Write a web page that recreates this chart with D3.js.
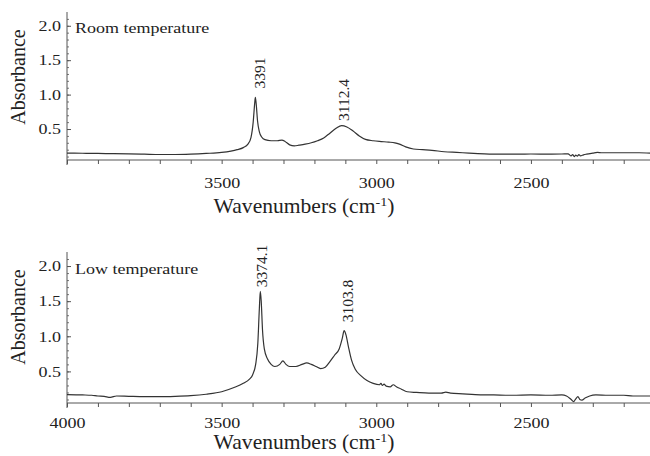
<!DOCTYPE html>
<html>
<head>
<meta charset="utf-8">
<script src="https://cdn.jsdelivr.net/npm/d3@7"></script>
<style>
  body { margin: 0; background: #fff; }
  svg { display: block; font-family: "Liberation Serif", "Times New Roman", serif; }
  svg text { font-family: "Liberation Serif", "Times New Roman", serif; }
</style>
</head>
<body>
<div id="chart"></div>
<script>
// spectra: wavenumber (cm-1) and absorbance
const roomWave = [4000, 3950, 3900, 3850, 3800, 3750, 3700, 3650, 3600, 3550, 3500, 3470, 3450, 3430, 3415, 3405, 3398, 3393, 3391, 3388, 3384, 3378, 3370, 3360, 3340, 3320, 3305, 3295, 3280, 3265, 3250, 3230, 3210, 3190, 3170, 3150, 3130, 3112, 3095, 3075, 3055, 3035, 3010, 2990, 2960, 2940, 2925, 2905, 2880, 2850, 2820, 2780, 2740, 2700, 2650, 2600, 2550, 2500, 2450, 2400, 2380, 2370, 2365, 2360, 2355, 2350, 2345, 2340, 2330, 2320, 2300, 2285, 2270, 2250, 2200, 2150, 2115];
const roomAbs = [0.15, 0.148, 0.145, 0.143, 0.14, 0.135, 0.13, 0.13, 0.135, 0.145, 0.16, 0.18, 0.2, 0.23, 0.28, 0.38, 0.6, 0.88, 0.96, 0.85, 0.62, 0.46, 0.38, 0.345, 0.33, 0.33, 0.34, 0.32, 0.27, 0.255, 0.265, 0.28, 0.3, 0.33, 0.37, 0.44, 0.51, 0.55, 0.53, 0.47, 0.4, 0.35, 0.33, 0.32, 0.31, 0.3, 0.28, 0.24, 0.21, 0.2, 0.19, 0.17, 0.16, 0.15, 0.14, 0.135, 0.135, 0.137, 0.135, 0.137, 0.14, 0.11, 0.13, 0.1, 0.12, 0.105, 0.13, 0.11, 0.125, 0.135, 0.15, 0.16, 0.155, 0.155, 0.155, 0.155, 0.15];

const lowWave = [4000, 3950, 3920, 3900, 3880, 3860, 3840, 3800, 3750, 3700, 3650, 3600, 3550, 3500, 3460, 3430, 3410, 3400, 3390, 3383, 3378, 3375, 3372, 3368, 3362, 3352, 3340, 3328, 3312, 3302, 3292, 3280, 3260, 3240, 3225, 3210, 3195, 3180, 3165, 3150, 3135, 3120, 3110, 3104, 3098, 3090, 3080, 3068, 3050, 3030, 3010, 2990, 2985, 2980, 2975, 2968, 2955, 2945, 2935, 2920, 2900, 2870, 2830, 2790, 2775, 2760, 2720, 2680, 2620, 2560, 2500, 2440, 2400, 2385, 2370, 2362, 2355, 2348, 2342, 2335, 2325, 2310, 2290, 2250, 2200, 2170, 2140, 2115];
const lowAbs = [0.17, 0.165, 0.16, 0.15, 0.145, 0.13, 0.15, 0.145, 0.14, 0.14, 0.145, 0.155, 0.175, 0.21, 0.27, 0.33, 0.39, 0.45, 0.6, 0.9, 1.4, 1.64, 1.5, 1.1, 0.82, 0.68, 0.6, 0.57, 0.6, 0.65, 0.6, 0.57, 0.57, 0.6, 0.62, 0.6, 0.57, 0.54, 0.56, 0.64, 0.73, 0.82, 0.97, 1.08, 1.02, 0.85, 0.66, 0.53, 0.44, 0.37, 0.33, 0.31, 0.33, 0.3, 0.32, 0.29, 0.28, 0.31, 0.28, 0.25, 0.21, 0.2, 0.19, 0.19, 0.205, 0.19, 0.18, 0.17, 0.165, 0.16, 0.165, 0.16, 0.165, 0.15, 0.1, 0.07, 0.11, 0.14, 0.1, 0.09, 0.12, 0.15, 0.165, 0.16, 0.16, 0.15, 0.15, 0.15];

const xTicks = d3.range(4000, 2100, -100);
const yTicks = [0.5, 1.0, 1.5, 2.0];
const yMinor = d3.range(1, 22).map(d => d / 10);

const panels = [
  { wave: roomWave, abs: roomAbs, title: "Room temperature", top: 12, bottom: 160, titleY: 33,
    peaks: [{ w: 3391, text: "3391", cx: 260, cy: 73 }, { w: 3112.4, text: "3112.4", cx: 344, cy: 100 }],
    tickPad: 13, showFirst: false, absY: 77, waveY: 213 },
  { wave: lowWave, abs: lowAbs, title: "Low temperature", top: 252, bottom: 403, titleY: 274,
    peaks: [{ w: 3374.1, text: "3374.1", cx: 262, cy: 266 }, { w: 3103.8, text: "3103.8", cx: 348, cy: 301 }],
    tickPad: 10, showFirst: true, absY: 317, waveY: 449 }
];

const width = 650, height = 456;
const left = 67, right = 650;
const stretch = "scale(1.2,1)";
const serif = "'Liberation Serif', 'Times New Roman', serif";

const svg = d3.select("#chart").append("svg")
  .attr("width", width)
  .attr("height", height);

const x = d3.scaleLinear().domain([4000, 2115]).range([left, right]);

panels.forEach(p => {
  const y = d3.scaleLinear().domain([0.05, 2.2]).range([p.bottom, p.top]);
  const g = svg.append("g");

  // x axis, tick every 100, label every 500
  const xa = g.append("g")
    .attr("transform", `translate(0,${p.bottom})`)
    .call(d3.axisBottom(x).tickValues(xTicks).tickSize(4).tickPadding(p.tickPad)
      .tickFormat(d => (d % 500 === 0 && (p.showFirst || d !== 4000)) ? d : ""))
    .call(s => s.select(".domain").attr("d", `M${left},0H${right}`))
    .attr("font-family", serif)
    .attr("font-size", 15);
  xa.selectAll("line").attr("stroke", "#555");
  xa.select(".domain").attr("stroke", "#555");
  xa.selectAll("text")
    .attr("fill", "#222")
    .attr("transform", stretch);

  // y axis: minor ticks then major
  const ym = g.append("g")
    .attr("transform", `translate(${left},0)`)
    .call(d3.axisLeft(y).tickValues(yMinor).tickSize(-2).tickFormat(""));
  ym.select(".domain").remove();
  ym.selectAll("line").attr("stroke", "#777");

  const ya = g.append("g")
    .attr("transform", `translate(${left},0)`)
    .call(d3.axisLeft(y).tickValues(yTicks).tickSize(-4).tickPadding(5).tickFormat(d3.format(".1f")))
    .attr("font-family", serif)
    .attr("font-size", 15);
  ya.select(".domain").remove();
  ya.selectAll("line").attr("stroke", "#555");
  ya.selectAll("text")
    .attr("fill", "#222")
    .attr("transform", stretch);

  g.append("line")
    .attr("x1", left).attr("x2", left)
    .attr("y1", p.top).attr("y2", p.bottom + 5)
    .attr("stroke", "#555");

  // spectrum
  const pts = p.wave.map((w, i) => [w, p.abs[i]]);
  g.append("path")
    .datum(pts)
    .attr("fill", "none")
    .attr("stroke", "#333")
    .attr("stroke-width", 1.2)
    .attr("d", d3.line().x(d => x(d[0])).y(d => y(d[1])).curve(d3.curveMonotoneX));

  // panel title
  g.append("text")
    .attr("transform", `translate(75,${p.titleY}) ${stretch}`)
    .attr("font-size", 15)
    .attr("fill", "#222")
    .text(p.title);

  // peak labels
  p.peaks.forEach(k => {
    g.append("text")
      .attr("transform", `translate(${k.cx},${k.cy}) rotate(-90)`)
      .attr("text-anchor", "middle")
      .attr("dy", "0.35em")
      .attr("font-size", 15.5)
      .attr("fill", "#222")
      .text(k.text);
  });

  // axis titles
  g.append("text")
    .attr("transform", `translate(18,${p.absY}) rotate(-90)`)
    .attr("text-anchor", "middle")
    .attr("dy", "0.35em")
    .attr("font-size", 20)
    .attr("fill", "#222")
    .text("Absorbance");

  const wt = g.append("text")
    .attr("transform", `translate(304,${p.waveY}) scale(1.08,1)`)
    .attr("text-anchor", "middle")
    .attr("font-size", 20)
    .attr("fill", "#222");
  wt.append("tspan").text("Wavenumbers (cm");
  wt.append("tspan").attr("font-size", 13).attr("dy", -7).text("-1");
  wt.append("tspan").attr("dy", 7).text(")");
});
</script>
</body>
</html>
